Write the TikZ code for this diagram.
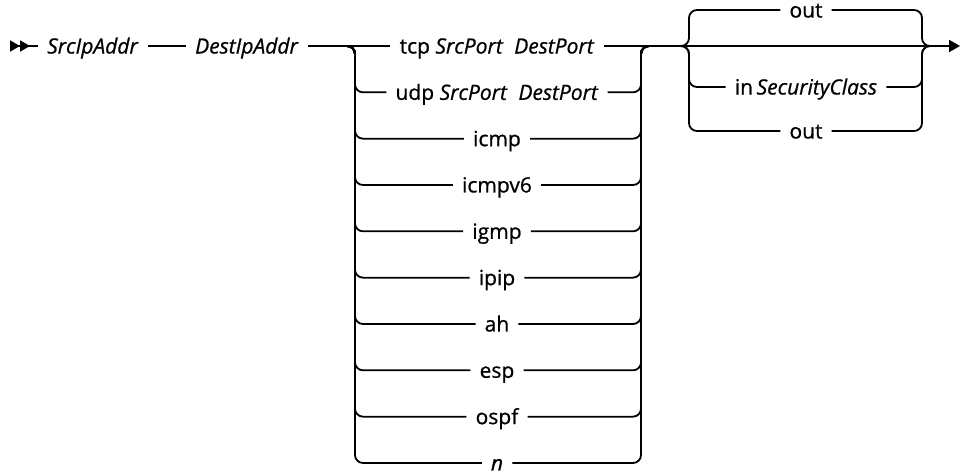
\documentclass[tikz,border=0pt]{standalone}
\usepackage{fontspec}
\setmainfont{Open Sans}[RawFeature={embolden=0.8}]
\usetikzlibrary{arrows.meta}

\begin{document}
\begin{tikzpicture}[x=1pt,y=-1pt,
  rail/.style={line width=1.8pt,rounded corners=8pt},
  lbl/.style={font=\fontsize{21}{25}\selectfont,inner xsep=9pt,inner ysep=0pt,text height=15pt,text depth=0pt}]
\useasboundingbox (0,0) rectangle (960,475);
% main line
\coordinate (start) at (10,46);
\coordinate (fin) at (960,46);
\coordinate (g1l) at (355,46); \coordinate (g1r) at (641,46);
\coordinate (g2l) at (689,46); \coordinate (g2r) at (922,46);
\node[lbl,anchor=west] (src) at (38,46) {\textit{SrcIpAddr}};
\node[lbl,anchor=west] (dst) at (186,46) {\textit{DestIpAddr}};
\node[lbl] (tcp) at (497,46) {tcp \textit{SrcPort}\ \ \textit{DestPort}};
\draw[rail,{Triangle[reversed,length=10pt,width=11pt]Triangle[reversed,length=10pt,width=11pt]}-] (start) -- (src);
\draw[rail] (src) -- (dst);
\draw[rail] (dst) -- (tcp);
\draw[rail,-{Triangle[length=11pt,width=12pt]}] (tcp) -- (fin);
% protocol choices
\foreach \txt [count=\k] in {{udp \textit{SrcPort}\ \ \textit{DestPort}},icmp,icmpv6,igmp,ipip,ah,esp,ospf,\textit{n}}{
  \node[lbl] (proto\k) at (497,{46+46.33*\k}) {\txt};
  \draw[rail] ([xshift=-10pt]g1l) -| (g1l |- proto\k) -- (proto\k.west)
    (proto\k.east) -| (g1r) -- ++(10,0);
}
% direction
\node[lbl] (outa) at (806,10) {out};
\node[lbl] (insc) at (806,87) {in\,\textit{SecurityClass}};
\node[lbl] (outb) at (806,131) {out};
\foreach \n in {outa,insc,outb}
  \draw[rail] ([xshift=-10pt]g2l) -| (g2l |- \n) -- (\n.west)
    (\n.east) -| (g2r) -- ++(10,0);
\end{tikzpicture}
\end{document}
